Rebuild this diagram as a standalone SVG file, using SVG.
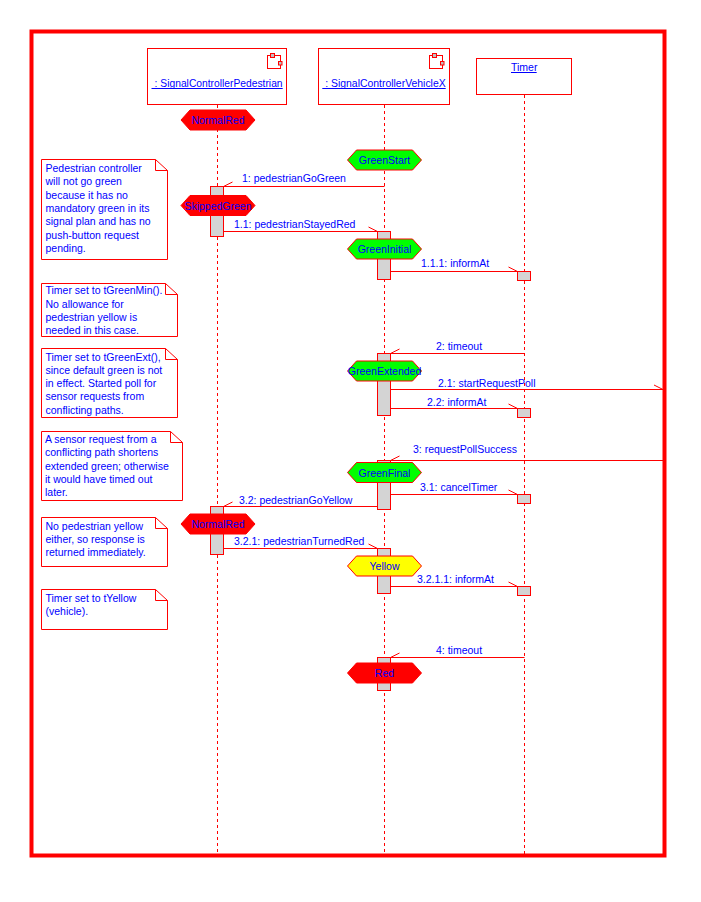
<svg xmlns="http://www.w3.org/2000/svg" xmlns:xlink="http://www.w3.org/1999/xlink" width="701" height="902" viewBox="0 0 701 902">
<style>
text{font-family:"Liberation Sans",Arial,sans-serif;font-size:10.5px;fill:#0000FF}
.c{text-anchor:middle}
.ln{stroke:#FF0000;stroke-width:1;fill:none}
.life{stroke:#FF0000;stroke-width:1;stroke-dasharray:3,3;fill:none}
.box{stroke:#FF0000;stroke-width:1;fill:#FFFFFF}
.act{stroke:#FF0000;stroke-width:1;fill:#D4D4D4}
.sq{stroke:#FF0000;stroke-width:1;fill:#C0C0C0}
.note{stroke:#FF0000;stroke-width:1;fill:#FFFFFF}
.hr{fill:#FF0000;stroke:#FF0000}
.hg{fill:#00FF00;stroke:#FF0000}
.hy{fill:#FFFF00;stroke:#FF0000}
</style>
<defs>
<polygon id="hex" points="-37,0 -28,-10 28,-10 37,0 28,10 -28,10"/>
</defs>
<rect width="701" height="902" fill="#FFFFFF"/>
<rect x="31.5" y="31.5" width="633" height="824" fill="none" stroke="#FF0000" stroke-width="4"/>

<g id="lifelines">
<line class="life" x1="217.5" y1="105" x2="217.5" y2="854"/>
<line class="life" x1="384.5" y1="105" x2="384.5" y2="854"/>
<line class="life" x1="524.5" y1="95" x2="524.5" y2="854"/>
</g>

<g id="obj-pedestrian">
<rect class="box" x="147.5" y="48.5" width="139" height="56"/>
<rect class="box" x="267.5" y="55.5" width="13" height="13"/>
<rect class="sq" x="270.5" y="53.5" width="4" height="4"/>
<rect class="sq" x="278.5" y="61.5" width="3.5" height="3.5"/>
<text x="154.6" y="86.5" textLength="128" lengthAdjust="spacingAndGlyphs">: SignalControllerPedestrian</text>
<line x1="151.5" y1="88.5" x2="282.7" y2="88.5" stroke="#0000FF" stroke-width="1"/>
</g>

<g id="obj-vehicle">
<rect class="box" x="318.5" y="48.5" width="131" height="56"/>
<rect class="box" x="429.5" y="55.5" width="13" height="13"/>
<rect class="sq" x="432.5" y="53.5" width="4" height="4"/>
<rect class="sq" x="440.5" y="61.5" width="3.5" height="3.5"/>
<text x="325.2" y="86.5" textLength="120.5" lengthAdjust="spacingAndGlyphs">: SignalControllerVehicleX</text>
<line x1="322.3" y1="88.5" x2="445.7" y2="88.5" stroke="#0000FF" stroke-width="1"/>
</g>

<g id="obj-timer">
<rect class="box" x="476.5" y="58.5" width="95" height="36"/>
<text x="511" y="70.5">Timer</text>
<line x1="511" y1="72.5" x2="536.7" y2="72.5" stroke="#0000FF" stroke-width="1"/>
</g>

<g id="activations">
<rect class="act" x="210.5" y="186.5" width="13" height="50"/>
<rect class="act" x="210.5" y="506.5" width="13" height="48"/>
<rect class="act" x="377.5" y="231.5" width="13" height="48"/>
<rect class="act" x="377.5" y="353.5" width="13" height="62"/>
<rect class="act" x="377.5" y="460.5" width="13" height="49"/>
<rect class="act" x="377.5" y="548.5" width="13" height="45"/>
<rect class="act" x="377.5" y="657.5" width="13" height="33"/>
<rect class="act" x="517.5" y="271.5" width="13" height="9"/>
<rect class="act" x="517.5" y="408.5" width="13" height="9"/>
<rect class="act" x="517.5" y="494.5" width="13" height="9"/>
<rect class="act" x="517.5" y="586.5" width="13" height="9"/>
</g>

<g id="connectors">
<path class="ln" d="M384.5,186.5 H223.5 M223.5,186.5 L232.5,182"/>
<text x="242" y="182">1: pedestrianGoGreen</text>
<path class="ln" d="M223.5,231.5 H377.5 M377.5,231.5 L368.5,227"/>
<text x="234" y="228">1.1: pedestrianStayedRed</text>
<path class="ln" d="M390.5,271.5 H517.5 M517.5,271.5 L508.5,267"/>
<text x="421" y="267">1.1.1: informAt</text>
<path class="ln" d="M524.5,353.5 H390.5 M390.5,353.5 L399.5,349"/>
<text x="436" y="350">2: timeout</text>
<path class="ln" d="M390.5,389.5 H663 M663,389.5 L654,385"/>
<text x="438" y="387">2.1: startRequestPoll</text>
<path class="ln" d="M390.5,408.5 H517.5 M517.5,408.5 L508.5,404"/>
<text x="427" y="405.5">2.2: informAt</text>
<path class="ln" d="M663,460.5 H390.5 M390.5,460.5 L399.5,456"/>
<text x="413" y="453">3: requestPollSuccess</text>
<path class="ln" d="M390.5,494.5 H517.5 M517.5,494.5 L508.5,490"/>
<text x="420" y="491">3.1: cancelTimer</text>
<path class="ln" d="M377.5,506.5 H223.5 M223.5,506.5 L232.5,502"/>
<text x="239" y="504">3.2: pedestrianGoYellow</text>
<path class="ln" d="M223.5,548.5 H377.5 M377.5,548.5 L368.5,544"/>
<text x="234" y="545">3.2.1: pedestrianTurnedRed</text>
<path class="ln" d="M390.5,586.5 H517.5 M517.5,586.5 L508.5,582"/>
<text x="417" y="583">3.2.1.1: informAt</text>
<path class="ln" d="M524.5,657.5 H390.5 M390.5,657.5 L399.5,653"/>
<text x="436" y="654">4: timeout</text>
</g>

<g id="state-normalred-1">
<use xlink:href="#hex" class="hr" x="218" y="120"/>
<text class="c" x="218" y="124">NormalRed</text>
</g>
<g id="state-greenstart">
<use xlink:href="#hex" class="hg" x="384.5" y="160"/>
<text class="c" x="384.5" y="164">GreenStart</text>
</g>
<g id="state-skippedgreen">
<use xlink:href="#hex" class="hr" x="218" y="205.5"/>
<text class="c" x="218" y="209.5">SkippedGreen</text>
</g>
<g id="state-greeninitial">
<use xlink:href="#hex" class="hg" x="384.5" y="249"/>
<text class="c" x="384.5" y="253">GreenInitial</text>
</g>
<g id="state-greenextended">
<use xlink:href="#hex" class="hg" x="384.5" y="371"/>
<text class="c" x="384.5" y="375">GreenExtended</text>
</g>
<g id="state-greenfinal">
<use xlink:href="#hex" class="hg" x="384.5" y="472.5"/>
<text class="c" x="384.5" y="476.5">GreenFinal</text>
</g>
<g id="state-normalred-2">
<use xlink:href="#hex" class="hr" x="218" y="524"/>
<text class="c" x="218" y="528">NormalRed</text>
</g>
<g id="state-yellow">
<use xlink:href="#hex" class="hy" x="384.5" y="566"/>
<text class="c" x="384.5" y="570">Yellow</text>
</g>
<g id="state-red">
<use xlink:href="#hex" class="hr" x="384.5" y="673"/>
<text class="c" x="384.5" y="677">Red</text>
</g>

<g id="note-1">
<path class="note" d="M41.5,159.5 H155.5 L167.5,170.5 V259.5 H41.5 Z M155.5,159.5 V170.5 H167.5"/>
<text x="45.5" y="172">Pedestrian controller</text>
<text x="45.5" y="185.3">will not go green</text>
<text x="45.5" y="198.6">because it has no</text>
<text x="45.5" y="212">mandatory green in its</text>
<text x="45.5" y="225.3">signal plan and has no</text>
<text x="45.5" y="238.6">push-button request</text>
<text x="45.5" y="252">pending.</text>
</g>
<g id="note-2">
<path class="note" d="M41.5,283.5 H165.5 L177.5,294.5 V336.5 H41.5 Z M165.5,283.5 V294.5 H177.5"/>
<text x="45.5" y="294">Timer set to tGreenMin().</text>
<text x="45.5" y="307.5">No allowance for</text>
<text x="45.5" y="321">pedestrian yellow is</text>
<text x="45.5" y="334">needed in this case.</text>
</g>
<g id="note-3">
<path class="note" d="M41.5,348.5 H165.5 L177.5,359.5 V417.5 H41.5 Z M165.5,348.5 V359.5 H177.5"/>
<text x="45.5" y="360.5">Timer set to tGreenExt(),</text>
<text x="45.5" y="373.8">since default green is not</text>
<text x="45.5" y="387">in effect. Started poll for</text>
<text x="45.5" y="400.3">sensor requests from</text>
<text x="45.5" y="413.6">conflicting paths.</text>
</g>
<g id="note-4">
<path class="note" d="M41.5,431.5 H170.5 L182.5,442.5 V500.5 H41.5 Z M170.5,431.5 V442.5 H182.5"/>
<text x="45" y="443">A sensor request from a</text>
<text x="45" y="456.3">conflicting path shortens</text>
<text x="45" y="469.6">extended green; otherwise</text>
<text x="45" y="483">it would have timed out</text>
<text x="45" y="496.3">later.</text>
</g>
<g id="note-5">
<path class="note" d="M41.5,517.5 H155.5 L167.5,528.5 V566.5 H41.5 Z M155.5,517.5 V528.5 H167.5"/>
<text x="45.5" y="529.5">No pedestrian yellow</text>
<text x="45.5" y="542.8">either, so response is</text>
<text x="45.5" y="556">returned immediately.</text>
</g>
<g id="note-6">
<path class="note" d="M41.5,589.5 H155.5 L167.5,600.5 V629.5 H41.5 Z M155.5,589.5 V600.5 H167.5"/>
<text x="45.5" y="601.5">Timer set to tYellow</text>
<text x="45.5" y="615">(vehicle).</text>
</g>
</svg>
